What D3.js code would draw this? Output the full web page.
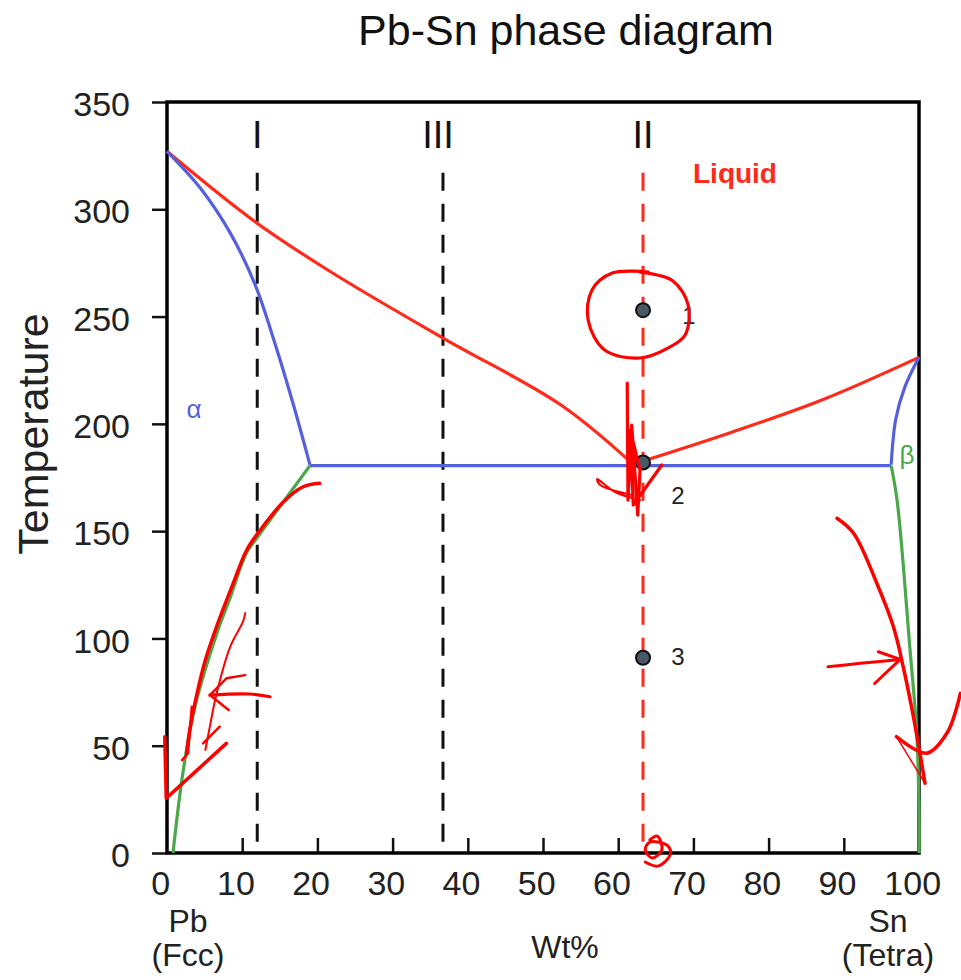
<!DOCTYPE html>
<html>
<head>
<meta charset="utf-8">
<script src="https://cdn.jsdelivr.net/npm/d3@7"></script>
<style>
  body { margin: 0; background: #fff; }
  text { font-family: "Liberation Sans", Arial, sans-serif; }
</style>
</head>
<body>
<script>
// phase boundaries, [wt% Sn, temperature]
const liquidusLeft = [[0, 327], [11.4, 295], [21.7, 271], [36.7, 240], [52.3, 209], [61.4, 183]];
const liquidusRight = [[63.6, 183], [75, 196], [87, 211], [100, 231]];
const solidusLeft = [[0, 327], [4.4, 310], [8.4, 289], [11.7, 265], [14.4, 237], [16.8, 209], [19.0, 181]];
const solidusRight = [[100, 231], [98.1, 217], [96.9, 202], [96.3, 181]];
const eutecticLine = [[19.0, 180.5], [96.3, 180.5]];
const solvusLeft = [[19.0, 180.5], [12.0, 147], [10.6, 140], [8.4, 119], [6.6, 102], [3.7, 68], [2.1, 37], [0.8, 0]];
const solvusRight = [[96.3, 180.5], [97.1, 164], [98.8, 95], [99.7, 56], [100, 20], [100, 0]];

// alloy lines
const alloyNames = ["I", "III", "II"];
const alloyWt = [12.0, 36.7, 63.3];
const alloyTop = 317;

// cooling points on alloy II
const pointNames = ["1", "2", "3"];
const pointTemps = [253, 182, 91];

const wtTicks = [0, 10, 20, 30, 40, 50, 60, 70, 80, 90, 100];
const tempTicks = [0, 50, 100, 150, 200, 250, 300, 350];

// hand-drawn red marks, [wt%, temperature]
const markCircle = [[62.9, 270.7], [67.2, 266.8], [69.3, 255.4], [68.9, 241.4], [66.6, 235.3], [62.9, 230.7], [58.2, 234.4], [56.0, 248.4], [56.5, 262.3], [59.2, 270.3], [64.0, 270.7]];
const markZigzag = [[61.2, 219.0], [61.3, 164.5], [61.8, 199.4], [62.6, 157.5], [62.9, 178.5], [61.6, 197.1], [62.0, 162.2], [65.8, 180.8]];
const markLoop = [[62.0, 166.8], [57.6, 171.5], [57.2, 174.3], [59.6, 168.2], [62.9, 164.5]];
const markLeftLong = [[20.3, 172.3], [18.1, 170.7], [15.5, 163.7], [12.4, 150.5], [10.6, 141.2], [8.8, 125.6], [6.6, 105.5], [5.1, 89.9], [4.0, 74.4], [3.1, 58.9], [2.6, 46.5]];
const markLeftThin = [[10.4, 111.8], [10.1, 107.8], [8.4, 96.1], [6.6, 74.4], [5.7, 58.9], [5.1, 48.0]];
const markLeftArrow = [[13.7, 72.8], [11.0, 74.1], [5.7, 73.6]];
const markLeftHead = [[8.2, 66.6], [5.7, 73.6], [7.9, 81.4], [10.4, 82.9]];
const markLeftTicks = [[3.3, 68.2], [2.8, 46.5], [2.0, 43.3]];
const markLeftTicks2 = [[7.0, 58.9], [4.8, 51.1]];
const markCheck = [[-0.3, 54.2], [-0.1, 25.5], [7.9, 51.1]];
const markRightLong = [[89.1, 156.0], [91.3, 149.0], [94.4, 125.6], [96.6, 105.4], [97.9, 86.8], [99.0, 68.2], [99.9, 51.1], [100.8, 32.5]];
const markRightArrow = [[87.9, 86.8], [92.2, 88.4], [97.5, 90.2]];
const markRightHead = [[94.6, 93.8], [97.5, 90.2], [94.1, 79.0]];
const markRightHook = [[97.0, 54.2], [101.0, 46.5], [103.7, 55.8], [105.5, 74.4]];
const markRightThin = [[97.0, 54.2], [100.8, 32.5]];
const markBottom = [[64.2, 6.1], [65.2, 7.9], [65.8, 1.4], [64.5, -2.3], [63.6, 1.4], [64.2, 5.1], [66.6, 3.3], [66.9, -0.9], [65.3, -6.1], [63.6, -4.2]];

const width = 961, height = 980;
const plotLeft = 167, plotRight = 919, plotTop = 102, plotBottom = 853;

const red = "#ff2a1a", blue = "#5560dd", green = "#4aa84a";

const svg = d3.select("body")
    .append("svg")
    .attr("width", width)
    .attr("height", height);

const x = d3.scaleLinear().domain([0, 100]).range([plotLeft, plotRight]);
const y = d3.scaleLinear().domain([0, 350]).range([plotBottom, plotTop]);

const line = d3.line()
    .x(d => x(d[0]))
    .y(d => y(d[1]))
    .curve(d3.curveCatmullRom);

// title
svg.append("text")
    .attr("x", 566)
    .attr("y", 45)
    .attr("text-anchor", "middle")
    .attr("font-size", 43)
    .attr("fill", "#111")
    .text("Pb-Sn phase diagram");

// axes
const xAxis = svg.append("g")
    .attr("transform", `translate(0,${plotBottom})`)
    .call(d3.axisBottom(x).tickValues(wtTicks).tickSizeInner(-15).tickSizeOuter(0).tickPadding(18));
xAxis.select(".domain").remove();
xAxis.selectAll(".tick line").attr("stroke", "#111").attr("stroke-width", 2.5)
    .attr("display", d => (d === 0 || d === 100) ? "none" : null);
xAxis.selectAll("text")
    .attr("font-size", 34)
    .attr("fill", "#222")
    .attr("dx", "-0.2em");

const yAxis = svg.append("g")
    .attr("transform", `translate(${plotLeft},0)`)
    .call(d3.axisLeft(y).tickValues(tempTicks).tickSizeInner(15).tickSizeOuter(0).tickPadding(22));
yAxis.select(".domain").remove();
yAxis.selectAll(".tick line").attr("stroke", "#111").attr("stroke-width", 2.5);
yAxis.selectAll("text")
    .attr("font-size", 34)
    .attr("fill", "#222")
    .attr("dy", "0.4em");

// frame
svg.append("rect")
    .attr("x", plotLeft)
    .attr("y", plotTop)
    .attr("width", plotRight - plotLeft)
    .attr("height", plotBottom - plotTop)
    .attr("fill", "none")
    .attr("stroke", "#000")
    .attr("stroke-width", 3.5);

// axis titles
svg.append("text")
    .attr("transform", "translate(48,434) rotate(-90)")
    .attr("text-anchor", "middle")
    .attr("font-size", 43)
    .attr("fill", "#222")
    .text("Temperature");

svg.append("text")
    .attr("x", 565)
    .attr("y", 958)
    .attr("text-anchor", "middle")
    .attr("font-size", 32)
    .attr("fill", "#222")
    .text("Wt%");

const endLabels = [["Pb", "(Fcc)", 188], ["Sn", "(Tetra)", 888]];
endLabels.forEach(function (d) {
    svg.append("text").attr("x", d[2]).attr("y", 932)
        .attr("text-anchor", "middle").attr("font-size", 32).attr("fill", "#222").text(d[0]);
    svg.append("text").attr("x", d[2]).attr("y", 966)
        .attr("text-anchor", "middle").attr("font-size", 32).attr("fill", "#222").text(d[1]);
});

// alloy dashed lines
alloyWt.forEach(function (w, i) {
    svg.append("line")
        .attr("x1", x(w)).attr("x2", x(w))
        .attr("y1", y(alloyTop)).attr("y2", y(0))
        .attr("stroke", i === 2 ? red : "#111")
        .attr("stroke-width", 3)
        .attr("stroke-dasharray", "18,13");
    svg.append("text")
        .attr("x", x(w) - (i === 1 ? 5 : 0))
        .attr("y", y(335) + 14)
        .attr("text-anchor", "middle")
        .attr("font-size", 38)
        .attr("fill", "#111")
        .text(alloyNames[i]);
});

// phase boundaries
const curves = [
    [liquidusLeft, red], [liquidusRight, red],
    [solidusLeft, blue], [solidusRight, blue], [eutecticLine, blue],
    [solvusLeft, green], [solvusRight, green]
];
curves.forEach(function (c) {
    svg.append("path")
        .attr("fill", "none")
        .attr("stroke", c[1])
        .attr("stroke-width", 3.2)
        .attr("d", line(c[0]));
});

// region labels
svg.append("text").attr("x", 693).attr("y", 183)
    .attr("font-size", 28).attr("font-weight", "bold").attr("fill", red).text("Liquid");
svg.append("text").attr("x", 194).attr("y", 418).attr("text-anchor", "middle")
    .attr("font-size", 26).attr("fill", blue).text("α");
svg.append("text").attr("x", 907).attr("y", 464).attr("text-anchor", "middle")
    .attr("font-size", 26).attr("fill", green).text("β");

// cooling points
const labelOffsets = [[46, 14], [35, 42], [35, 7]];
svg.selectAll("circle.pt")
    .data(pointTemps)
    .enter().append("circle")
    .attr("class", "pt")
    .attr("cx", x(alloyWt[2]))
    .attr("cy", d => y(d))
    .attr("r", 7)
    .attr("fill", "#4a5866")
    .attr("stroke", "#111")
    .attr("stroke-width", 2);

svg.selectAll("text.pt")
    .data(pointTemps)
    .enter().append("text")
    .attr("class", "pt")
    .attr("x", (d, i) => x(alloyWt[2]) + labelOffsets[i][0])
    .attr("y", (d, i) => y(d) + labelOffsets[i][1])
    .attr("text-anchor", "middle")
    .attr("font-family", "DejaVu Sans")
    .attr("font-size", 24)
    .attr("fill", "#222")
    .text((d, i) => pointNames[i]);

// hand-drawn annotations: [points, width, smooth]
const marks = [
    [markCircle, 3.2, true], [markZigzag, 3.2, false], [markLoop, 2.2, true],
    [markLeftLong, 3.5, true], [markLeftThin, 2, true], [markLeftArrow, 3.2, true], [markLeftHead, 2.5, false],
    [markLeftTicks, 2.5, false], [markLeftTicks2, 2.5, false], [markCheck, 3.5, false],
    [markRightLong, 3.5, true], [markRightArrow, 3, true], [markRightHead, 3, false], [markRightHook, 3.5, true],
    [markRightThin, 1.5, false], [markBottom, 3, true]
];
const markSmooth = d3.line()
    .x(d => x(d[0]))
    .y(d => y(d[1]))
    .curve(d3.curveCatmullRom.alpha(0.5));
const markStraight = d3.line()
    .x(d => x(d[0]))
    .y(d => y(d[1]));
marks.forEach(function (m) {
    svg.append("path")
        .attr("fill", "none")
        .attr("stroke", "#ff0000")
        .attr("stroke-width", m[1])
        .attr("stroke-linecap", "round")
        .attr("stroke-linejoin", "round")
        .attr("d", (m[2] ? markSmooth : markStraight)(m[0]));
});
</script>
</body>
</html>
